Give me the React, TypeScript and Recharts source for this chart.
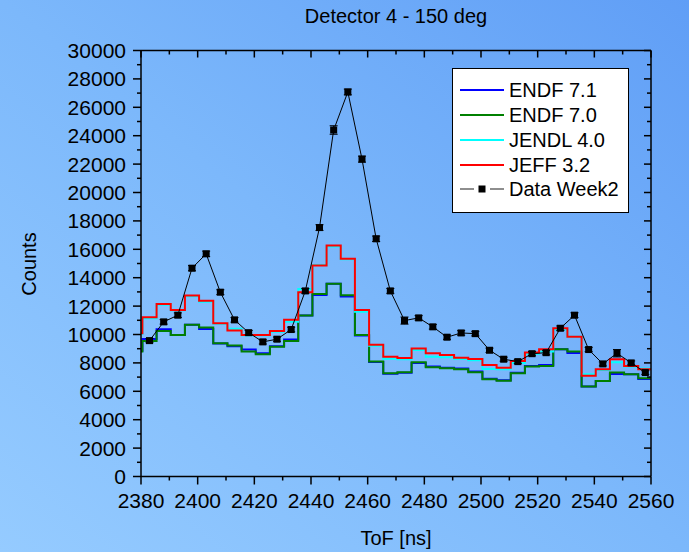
import React from 'react';
import { LineChart, Line, XAxis, YAxis, Legend, ErrorBar } from 'recharts';

const FONT = '"Liberation Sans", Arial, Helvetica, sans-serif';

// axis ticks (major ones carry labels)
const xTicks = [2380, 2400, 2420, 2440, 2460, 2480, 2500, 2520, 2540, 2560];
const xMinorTicks = [2390, 2410, 2430, 2450, 2470, 2490, 2510, 2530, 2550];
const yTicks = [0, 2000, 4000, 6000, 8000, 10000, 12000, 14000, 16000, 18000, 20000, 22000, 24000, 26000, 28000, 30000];
const yMinorTicks = [1000, 3000, 5000, 7000, 9000, 11000, 13000, 15000, 17000, 19000, 21000, 23000, 25000, 27000, 29000];

// measured data (Data Week2)
const dataTof = [2383, 2388, 2393, 2398, 2403, 2408, 2413, 2418, 2423, 2428, 2433, 2438, 2443, 2448, 2453, 2458, 2463, 2468,
  2473, 2478, 2483, 2488, 2493, 2498, 2503, 2508, 2513, 2518, 2523, 2528, 2533, 2538, 2543, 2548, 2553, 2558];
const dataCounts = [9570, 10890, 11360, 14670, 15680, 12980, 11030, 10130, 9480, 9670, 10350, 13070, 17530, 24400, 27080, 22350, 16740, 13070,
  10980, 11170, 10540, 9810, 10110, 10060, 8890, 8260, 8090, 8650, 8720, 10440, 11360, 8940, 7930, 8680, 8000, 7320];
const dataErr = [150, 160, 160, 180, 190, 170, 160, 150, 150, 150, 160, 170, 200, 300, 200, 210, 190, 170,
  250, 160, 160, 150, 160, 160, 150, 140, 140, 150, 150, 160, 170, 150, 140, 260, 140, 130];

// simulated histograms: left bin edges (last entry closes the last bin)
const binEdges = [2375.5, 2380.5, 2385.5, 2390.5, 2395.5, 2400.5, 2405.5, 2410.5, 2415.5, 2420.5, 2425.5, 2430.5, 2435.5,
  2440.5, 2445.5, 2450.5, 2455.5, 2460.5, 2465.5, 2470.5, 2475.5, 2480.5, 2485.5, 2490.5, 2495.5, 2500.5, 2505.5, 2510.5,
  2515.5, 2520.5, 2525.5, 2530.5, 2535.5, 2540.5, 2545.5, 2550.5, 2555.5, 2560.5];
const endf71 = [8850, 9690, 10370, 9970, 10680, 10390, 9360, 9180, 8950, 8680, 9170, 9640, 11330, 12790, 13570, 12670, 9930, 8070, 7230,
  7310, 8000, 7740, 7650, 7600, 7400, 6880, 6780, 7300, 7780, 7850, 8960, 8700, 6330, 6730, 7220, 7200, 6870];
const endf70 = [8800, 9550, 10250, 9970, 10680, 10490, 9390, 9220, 8800, 8610, 9130, 9550, 11330, 12860, 13570, 12770, 9970, 8090, 7270,
  7340, 8050, 7700, 7620, 7550, 7340, 6850, 6750, 7270, 7740, 7790, 8960, 8800, 6330, 6730, 7320, 7200, 6920];
const jendl40 = [10050, 11150, 12100, 11700, 12700, 12300, 10750, 10400, 9950, 9950, 10200, 10900, 13200, 14900, 16200, 15300, 11600, 9200, 8300,
  8250, 8900, 8440, 8400, 8280, 8180, 7570, 7550, 8000, 8650, 8800, 10350, 9850, 7200, 7500, 8050, 7750, 7600];
const jeff32 = [10090, 11220, 12140, 11730, 12740, 12370, 10800, 10280, 9970, 9970, 10250, 11030, 12980, 14860, 16270, 15330, 11730, 9270, 8440,
  8350, 9010, 8680, 8560, 8370, 8280, 7860, 7650, 8130, 8730, 8960, 10440, 9850, 7100, 7550, 8260, 7790, 7550];

const histNames = ['ENDF 7.1', 'ENDF 7.0', 'JENDL 4.0', 'JEFF 3.2'];
const histColors = ['#0000ff', '#008000', '#00ffff', '#ff0000'];
const histValues = [endf71, endf70, jendl40, jeff32];
const dataName = 'Data Week2';
const legendOrder = [...histNames, dataName];

const allXTicks = [...xTicks, ...xMinorTicks].sort((a, b) => a - b);
const allYTicks = [...yTicks, ...yMinorTicks].sort((a, b) => a - b);

const toHist = (vals: number[]) =>
  binEdges.map((x, i) => ({ x, y: vals[Math.min(i, vals.length - 1)] }));

const points = dataTof.map((x, i) => ({ x, y: dataCounts[i], err: dataErr[i] }));

const SquareDot = (props: any) => {
  const { cx, cy, index } = props;
  if (cx == null || cy == null) return <g key={`e-${index}`} />;
  return <rect key={`d-${index}`} x={cx - 3.5} y={cy - 3.5} width={7} height={7} fill="#000" />;
};

const TICK = { stroke: '#000', strokeWidth: 1.5 };
const axisLine = { stroke: '#000', strokeWidth: 1.5 };

// tick marks are drawn here so majors and minors can have different lengths
const BottomTick = (props: any) => {
  const { x, y, payload } = props;
  const major = xTicks.includes(payload.value);
  return (
    <g>
      <line x1={x} x2={x} y1={y} y2={y + (major ? 8 : 4)} {...TICK} />
      {major && (
        <text x={x} y={y + 17} dy="0.71em" textAnchor="middle" fontSize={21} fontFamily={FONT} fill="#000">
          {payload.value}
        </text>
      )}
    </g>
  );
};

const TopTick = (props: any) => {
  const { x, y, payload } = props;
  const major = xTicks.includes(payload.value);
  return <line x1={x} x2={x} y1={y} y2={y + (major ? 7 : 4)} {...TICK} />;
};

const LeftTick = (props: any) => {
  const { x, y, payload } = props;
  const major = yTicks.includes(payload.value);
  return (
    <g>
      <line x1={x - (major ? 8 : 4)} x2={x} y1={y} y2={y} {...TICK} />
      {major && (
        <text x={x - 15} y={y} dy="0.355em" textAnchor="end" fontSize={21} fontFamily={FONT} fill="#000">
          {payload.value}
        </text>
      )}
    </g>
  );
};

const RightTick = (props: any) => {
  const { x, y, payload } = props;
  const major = yTicks.includes(payload.value);
  return <line x1={x - (major ? 7 : 4)} x2={x} y1={y} y2={y} {...TICK} />;
};

const renderLegend = (props: any) => {
  const items = [...(props.payload || [])].sort(
    (a: any, b: any) => legendOrder.indexOf(a.value) - legendOrder.indexOf(b.value)
  );
  return (
    <div
      style={{
        boxSizing: 'border-box',
        width: 177,
        height: 145,
        background: '#fff',
        border: '1.5px solid #000',
        padding: '9px 0 0 6.5px',
        fontFamily: FONT,
        fontSize: 20,
        color: '#000',
      }}
    >
      {items.map((it: any, i: number) => (
        <div key={i} style={{ display: 'flex', alignItems: 'center', height: 24.75 }}>
          <svg width={44} height={12} style={{ marginRight: 5.5, flex: 'none' }}>
            {it.value === dataName ? (
              <g>
                <line x1={0} x2={14} y1={6} y2={6} stroke="#444" strokeWidth={1.2} />
                <rect x={18.5} y={2.5} width={7} height={7} fill="#000" />
                <line x1={30} x2={44} y1={6} y2={6} stroke="#444" strokeWidth={1.2} />
              </g>
            ) : (
              <line x1={0} x2={44} y1={6} y2={6} stroke={it.color} strokeWidth={2} />
            )}
          </svg>
          <span style={{ lineHeight: '24px', whiteSpace: 'nowrap' }}>{it.value}</span>
        </div>
      ))}
    </div>
  );
};

export default function App() {
  return (
    <div
      style={{
        position: 'relative',
        width: 689,
        height: 552,
        background: 'linear-gradient(to top right, #95cbff 0%, #7cb8fb 50%, #609ef6 100%)',
        fontFamily: FONT,
        overflow: 'hidden',
      }}
    >
      <style>{'body{margin:0}'}</style>
      <div style={{ position: 'absolute', left: 141, width: 510, top: 4, lineHeight: '24px', fontSize: 20, textAlign: 'center' }}>
        Detector 4 - 150 deg
      </div>
      <div
        style={{
          position: 'absolute',
          left: 29,
          top: 263.5,
          transform: 'translate(-50%, -50%) rotate(-90deg)',
          fontSize: 20,
          whiteSpace: 'nowrap',
        }}
      >
        Counts
      </div>
      <div style={{ position: 'absolute', left: 141, width: 510, top: 526, lineHeight: '24px', fontSize: 20, textAlign: 'center' }}>
        ToF [ns]
      </div>
      <LineChart width={689} height={552} margin={{ top: 49.5, right: 37, bottom: 35.5, left: 0 }}>
        <XAxis
          xAxisId="x"
          type="number"
          dataKey="x"
          domain={[2380, 2560]}
          allowDataOverflow
          ticks={allXTicks}
          interval={0}
          tickSize={0}
          tickMargin={0}
          height={40}
          axisLine={axisLine}
          tickLine={false}
          tick={BottomTick}
        />
        <XAxis
          xAxisId="xtop"
          orientation="top"
          type="number"
          dataKey="x"
          domain={[2380, 2560]}
          allowDataOverflow
          ticks={allXTicks}
          interval={0}
          tickSize={0}
          tickMargin={0}
          height={1}
          axisLine={axisLine}
          tickLine={false}
          tick={TopTick}
        />
        <YAxis
          yAxisId="y"
          type="number"
          domain={[0, 30000]}
          allowDataOverflow
          ticks={allYTicks}
          interval={0}
          width={141}
          tickSize={0}
          tickMargin={0}
          axisLine={axisLine}
          tickLine={false}
          tick={LeftTick}
        />
        <YAxis
          yAxisId="yright"
          orientation="right"
          type="number"
          domain={[0, 30000]}
          allowDataOverflow
          ticks={allYTicks}
          interval={0}
          width={1}
          tickSize={0}
          tickMargin={0}
          axisLine={axisLine}
          tickLine={false}
          tick={RightTick}
        />
        {histValues.map((vals, i) => (
          <Line
            key={histNames[i]}
            xAxisId="x"
            yAxisId="y"
            data={toHist(vals)}
            dataKey="y"
            name={histNames[i]}
            type="stepAfter"
            stroke={histColors[i]}
            strokeWidth={2}
            dot={false}
            activeDot={false}
            isAnimationActive={false}
          />
        ))}
        <Line
          xAxisId="x"
          yAxisId="y"
          data={points}
          dataKey="y"
          name={dataName}
          type="linear"
          stroke="#000"
          strokeWidth={1}
          dot={SquareDot}
          activeDot={false}
          isAnimationActive={false}
        >
          <ErrorBar dataKey="err" direction="y" width={4} stroke="#000" strokeWidth={1} />
        </Line>
        <Legend
          layout="vertical"
          align="center"
          verticalAlign="middle"
          content={renderLegend}
          wrapperStyle={{ left: 452, top: 68, width: 177, height: 145 }}
        />
      </LineChart>
    </div>
  );
}
